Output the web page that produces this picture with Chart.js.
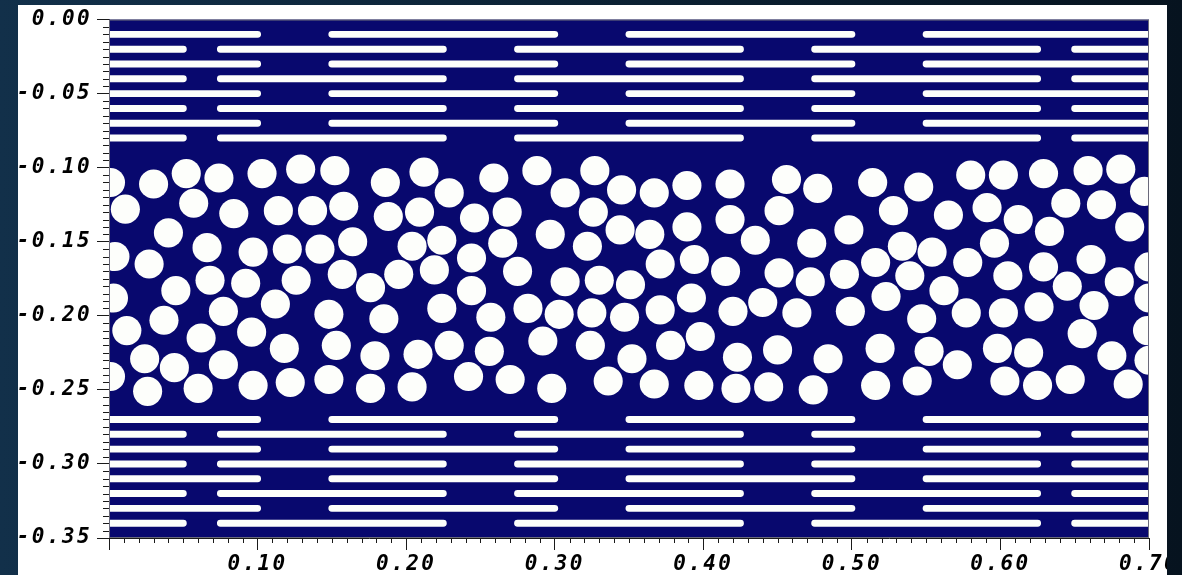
<!DOCTYPE html>
<html>
<head>
<meta charset="utf-8">
<title>Fibre microstructure cross-section</title>
<script src="https://cdn.jsdelivr.net/npm/chart.js@4.4.1/dist/chart.umd.min.js"></script>
<style>
  html, body { margin: 0; padding: 0; }
  body {
    width: 1182px; height: 575px; overflow: hidden; position: relative;
    background: linear-gradient(90deg, #12304a 0%, #0c2336 45%, #06131f 100%);
  }
  #panel {
    position: absolute; left: 18px; top: 5px; width: 1149px; height: 570px;
    background: #ffffff; overflow: hidden;
  }
  canvas { display: block; }
</style>
</head>
<body>
<div id="panel"><canvas id="c" width="1149" height="570"></canvas></div>
<script>
// Axis ranges and tick steps
const xRange = [0, 0.70];
const yRange = [-0.35, 0];
const xMajorStep = 0.10, xMinorStep = 0.01;
const yMajorStep = 0.05, yMinorStep = 0.005;

// Laminate plies: depth of each ply centre line
const topPlyDepthsA = [-0.01, -0.03, -0.05, -0.07];
const topPlyDepthsB = [-0.02, -0.04, -0.06, -0.08];
const bottomPlyDepthsA = [-0.27, -0.29, -0.31, -0.33];
const bottomPlyDepthsB = [-0.28, -0.30, -0.32, -0.34];

// Ply segments along x (start, end) for the two staggered ply types
const plySegmentsA = [[0, 0.10], [0.15, 0.30], [0.35, 0.50], [0.55, 0.70]];
const plySegmentsB = [[0, 0.05], [0.075, 0.225], [0.275, 0.425], [0.475, 0.625], [0.65, 0.70]];
const plyThickness = 0.0047;

// Fibre centres in the core layer
const fiberX = [
  0.001, 0.030, 0.052, 0.074, 0.103, 0.011, 0.057, 0.084, 0.040, 0.004,
  0.066, 0.027, 0.097, 0.068, 0.092, 0.045, 0.003, 0.077, 0.037, 0.012,
  0.062, 0.096, 0.024, 0.044, 0.077, 0.001, 0.026, 0.060, 0.097,
  0.129, 0.152, 0.186, 0.212, 0.114, 0.137, 0.158, 0.188, 0.209, 0.120,
  0.142, 0.164, 0.204, 0.224, 0.126, 0.157, 0.176, 0.195, 0.219, 0.112,
  0.148, 0.185, 0.224, 0.118, 0.153, 0.179, 0.208, 0.122, 0.148, 0.176, 0.204,
  0.259, 0.288, 0.327, 0.229, 0.307, 0.246, 0.268, 0.326, 0.297, 0.265,
  0.322, 0.244, 0.275, 0.307, 0.330, 0.244, 0.257, 0.282, 0.303, 0.325,
  0.229, 0.256, 0.292, 0.324, 0.242, 0.270, 0.298, 0.336,
  0.345, 0.367, 0.389, 0.418, 0.456, 0.344, 0.364, 0.389, 0.418, 0.451,
  0.435, 0.371, 0.394, 0.415, 0.451, 0.351, 0.392, 0.371, 0.347, 0.420,
  0.440, 0.398, 0.378, 0.352, 0.423, 0.450, 0.367, 0.397, 0.422, 0.444,
  0.477, 0.514, 0.545, 0.528, 0.565, 0.498, 0.473, 0.534, 0.554, 0.495,
  0.516, 0.539, 0.472, 0.523, 0.562, 0.463, 0.499, 0.547, 0.484, 0.519,
  0.552, 0.571, 0.474, 0.516, 0.544,
  0.580, 0.602, 0.629, 0.659, 0.681, 0.697, 0.591, 0.612, 0.644, 0.668,
  0.687, 0.596, 0.633, 0.578, 0.605, 0.629, 0.661, 0.700, 0.645, 0.680,
  0.577, 0.602, 0.626, 0.663, 0.700, 0.655, 0.699, 0.598, 0.619, 0.675,
  0.700, 0.603, 0.625, 0.647, 0.686
];
const fiberY = [
  -0.110, -0.111, -0.104, -0.107, -0.104, -0.128, -0.124, -0.131, -0.144, -0.160,
  -0.154, -0.165, -0.157, -0.176, -0.178, -0.183, -0.188, -0.197, -0.203, -0.210,
  -0.215, -0.211, -0.229, -0.235, -0.233, -0.241, -0.251, -0.249, -0.247,
  -0.101, -0.102, -0.110, -0.103, -0.129, -0.129, -0.126, -0.133, -0.130, -0.155,
  -0.155, -0.150, -0.153, -0.149, -0.176, -0.172, -0.181, -0.172, -0.169, -0.192,
  -0.199, -0.202, -0.195, -0.222, -0.220, -0.227, -0.226, -0.245, -0.243, -0.249, -0.248,
  -0.107, -0.102, -0.102, -0.117, -0.117, -0.134, -0.130, -0.130, -0.145, -0.151,
  -0.153, -0.161, -0.170, -0.177, -0.176, -0.183, -0.201, -0.195, -0.199, -0.198,
  -0.220, -0.224, -0.217, -0.220, -0.241, -0.243, -0.249, -0.244,
  -0.115, -0.117, -0.112, -0.111, -0.108, -0.142, -0.145, -0.140, -0.135, -0.129,
  -0.149, -0.165, -0.162, -0.170, -0.171, -0.179, -0.188, -0.196, -0.201, -0.197,
  -0.191, -0.214, -0.220, -0.229, -0.228, -0.223, -0.246, -0.247, -0.249, -0.248,
  -0.114, -0.110, -0.113, -0.129, -0.132, -0.142, -0.151, -0.153, -0.157, -0.172,
  -0.164, -0.173, -0.177, -0.187, -0.183, -0.198, -0.197, -0.202, -0.229, -0.222,
  -0.224, -0.233, -0.250, -0.247, -0.244,
  -0.105, -0.105, -0.104, -0.102, -0.101, -0.116, -0.127, -0.135, -0.124, -0.125,
  -0.140, -0.151, -0.143, -0.164, -0.173, -0.167, -0.162, -0.167, -0.180, -0.177,
  -0.198, -0.198, -0.194, -0.193, -0.188, -0.212, -0.210, -0.222, -0.225, -0.227,
  -0.230, -0.244, -0.247, -0.243, -0.246
];
const fiberRadius = 0.0098;

// Colours
const matrixColor = '#08086e';
const phaseColor = '#fdfefb';
const axisColor = '#1a1a1a';

// Build a broken polyline (null-separated) for a set of plies of one type
function plyPoints(depths, segments) {
  const pts = [];
  depths.forEach(d => {
    segments.forEach(([x0, x1]) => {
      pts.push({ x: x0, y: d }, { x: x1, y: d }, { x: x1, y: null });
    });
  });
  return pts;
}

const fibers = fiberX.map((x, i) => ({ x, y: fiberY[i] }));

const pxPerUnitX = chart => chart.chartArea ? chart.chartArea.width / (xRange[1] - xRange[0]) : 1485;
const pxPerUnitY = chart => chart.chartArea ? chart.chartArea.height / (yRange[1] - yRange[0]) : 1488;

function plyDataset(depths, segments) {
  return {
    type: 'scatter',
    data: plyPoints(depths, segments),
    showLine: true,
    spanGaps: false,
    borderColor: phaseColor,
    borderWidth: ctx => plyThickness * pxPerUnitY(ctx.chart),
    borderCapStyle: 'round',
    pointRadius: 0,
    pointHoverRadius: 0,
    clip: 0
  };
}

const fmt = v => {
  const r = Math.round(v * 100) / 100;
  return (Math.abs(r) < 1e-9 ? 0 : r).toFixed(2);
};

// Background of the plot, minor ticks and frame
const plotFrame = {
  id: 'plotFrame',
  beforeUpdate(chart) { chart.ctx.letterSpacing = '2.4px'; },
  beforeDatasetsDraw(chart) {
    const { ctx, chartArea: a } = chart;
    ctx.save();
    ctx.fillStyle = matrixColor;
    ctx.fillRect(a.left, a.top, a.width, a.height);
    ctx.restore();
  },
  afterDraw(chart) {
    const { ctx, chartArea: a, scales } = chart;
    ctx.save();
    ctx.strokeStyle = axisColor;
    ctx.lineWidth = 1;
    ctx.beginPath();
    const nx = Math.round((xRange[1] - xRange[0]) / xMinorStep);
    for (let i = 0; i <= nx; i++) {
      const v = xRange[0] + i * xMinorStep;
      if (Math.abs(v / xMajorStep - Math.round(v / xMajorStep)) < 1e-6) continue;
      const px = Math.round(scales.x.getPixelForValue(v)) + 0.5;
      ctx.moveTo(px, a.bottom);
      ctx.lineTo(px, a.bottom + 5);
    }
    const ny = Math.round((yRange[1] - yRange[0]) / yMinorStep);
    for (let i = 0; i <= ny; i++) {
      const v = yRange[0] + i * yMinorStep;
      if (Math.abs(v / yMajorStep - Math.round(v / yMajorStep)) < 1e-6) continue;
      const py = Math.round(scales.y.getPixelForValue(v)) + 0.5;
      ctx.moveTo(a.left, py);
      ctx.lineTo(a.left - 6, py);
    }
    ctx.stroke();
    ctx.strokeStyle = '#6a6a7a';
    ctx.strokeRect(a.left + 0.5, a.top + 0.5, a.width - 1, a.height - 1);
    ctx.restore();
  }
};

const tickFont = { family: "'DejaVu Sans Mono', 'Liberation Mono', monospace", size: 21, style: 'italic', weight: 'bold' };

new Chart(document.getElementById('c'), {
  type: 'scatter',
  data: {
    datasets: [
      plyDataset(topPlyDepthsA, plySegmentsA),
      plyDataset(topPlyDepthsB, plySegmentsB),
      plyDataset(bottomPlyDepthsA, plySegmentsA),
      plyDataset(bottomPlyDepthsB, plySegmentsB),
      {
        type: 'scatter',
        data: fibers,
        backgroundColor: phaseColor,
        borderWidth: 0,
        pointRadius: ctx => fiberRadius * pxPerUnitX(ctx.chart),
        pointHoverRadius: ctx => fiberRadius * pxPerUnitX(ctx.chart),
        clip: 0
      }
    ]
  },
  options: {
    responsive: false,
    animation: false,
    events: [],
    layout: { padding: { top: 12, right: 18, left: 0, bottom: 0 } },
    plugins: { legend: { display: false }, tooltip: { enabled: false } },
    scales: {
      x: {
        type: 'linear',
        min: xRange[0], max: xRange[1],
        grid: { drawOnChartArea: false, drawTicks: true, tickLength: 12, color: axisColor, tickColor: axisColor },
        border: { display: true, color: axisColor },
        ticks: {
          stepSize: xMajorStep, autoSkip: false, maxRotation: 0, padding: 2,
          color: '#000', font: tickFont,
          callback: v => (Math.abs(v) < 1e-9 ? '' : fmt(v))
        },
        afterFit: s => { s.height = 37; s.paddingLeft = 0; s.paddingRight = 0; }
      },
      y: {
        type: 'linear',
        min: yRange[0], max: yRange[1],
        grid: { drawOnChartArea: false, drawTicks: true, tickLength: 12, color: axisColor, tickColor: axisColor },
        border: { display: true, color: axisColor },
        ticks: {
          stepSize: yMajorStep, autoSkip: false, padding: 5,
          color: '#000', font: tickFont,
          callback: v => fmt(v)
        },
        afterFit: s => { s.width = 91; s.paddingTop = 0; s.paddingBottom = 0; }
      }
    }
  },
  plugins: [plotFrame]
});
</script>
</body>
</html>
